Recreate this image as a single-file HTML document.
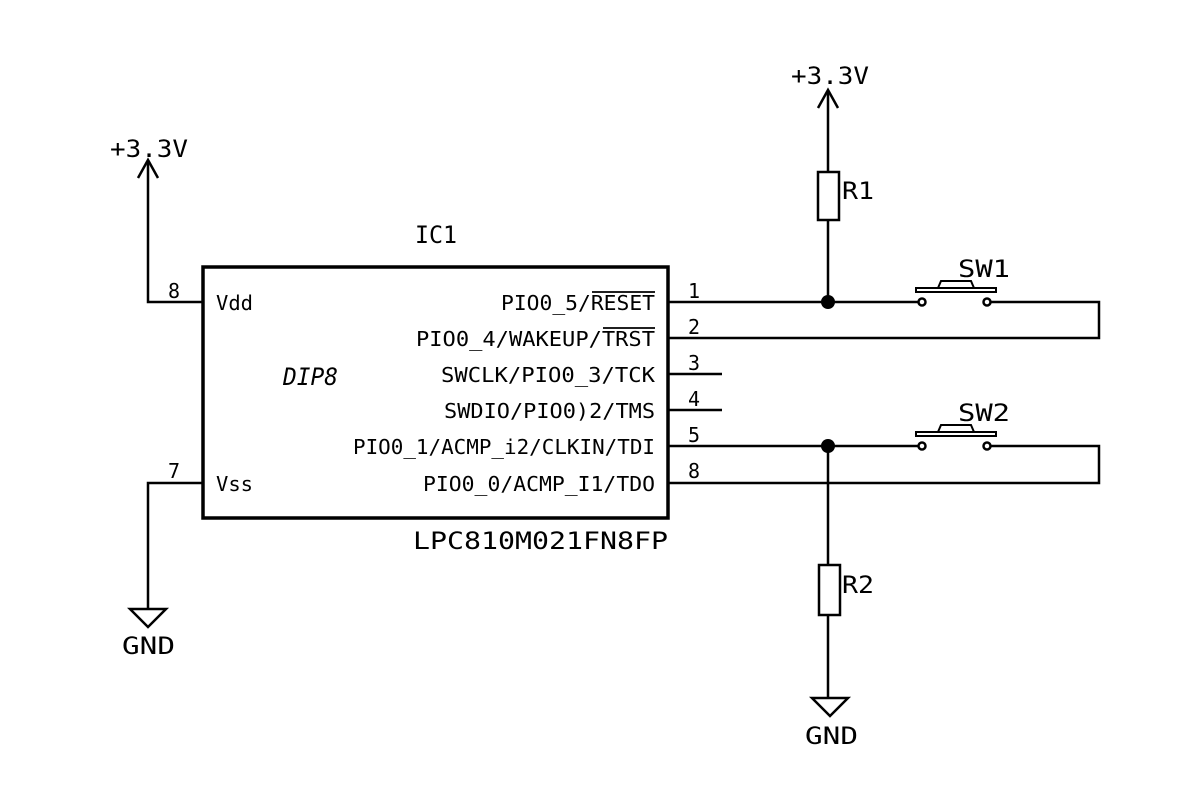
<!DOCTYPE html>
<html><head><meta charset="utf-8"><style>
html,body{margin:0;padding:0;background:#fff;}
svg{display:block}
text{font-family:"DejaVu Sans Mono","Liberation Mono",monospace;fill:#000;}
</style></head><body>
<svg width="1200" height="793" viewBox="0 0 1200 793" xmlns="http://www.w3.org/2000/svg">
<g stroke="#000" stroke-width="2.5" fill="none">
<rect x="203" y="267" width="465" height="251" stroke-width="3.5"/>
<polyline points="203,302 148,302 148,160"/>
<polyline points="138,178 148,160 158,178"/>
<polyline points="203,483 148,483 148,609"/>
<polygon points="130,609 166,609 148,627"/>
<line x1="668" y1="374" x2="722" y2="374"/>
<line x1="668" y1="410" x2="722" y2="410"/>
<line x1="668" y1="302" x2="918" y2="302"/>
<polyline points="991,302 1099,302 1099,338 668,338"/>
<line x1="668" y1="446" x2="918" y2="446"/>
<polyline points="991,446 1099,446 1099,483 668,483"/>
<line x1="828" y1="302" x2="828" y2="220"/>
<rect x="818" y="172" width="21" height="48"/>
<line x1="828" y1="172" x2="828" y2="90"/>
<polyline points="818,108 828,90 838,108"/>
<line x1="828" y1="446" x2="828" y2="565"/>
<rect x="819" y="565" width="21" height="50"/>
<line x1="828" y1="615" x2="828" y2="698"/>
<polygon points="812,698 848,698 830,716"/>
<circle cx="922" cy="302" r="3.5"/>
<circle cx="987" cy="302" r="3.5"/>
<rect x="916" y="288" width="80" height="4" stroke-width="2"/>
<polyline points="938,288 941,281 971,281 974,288" stroke-width="2"/>
<circle cx="922" cy="446" r="3.5"/>
<circle cx="987" cy="446" r="3.5"/>
<rect x="916" y="432" width="80" height="4" stroke-width="2"/>
<polyline points="938,432 941,425 971,425 974,432" stroke-width="2"/>
<line x1="592" y1="292" x2="655" y2="292" stroke-width="1.8"/>
<line x1="603" y1="328" x2="655" y2="328" stroke-width="1.8"/>
</g>
<circle cx="828" cy="302" r="7" fill="#000"/>
<circle cx="828" cy="446" r="7" fill="#000"/>
<g font-size="24" lengthAdjust="spacingAndGlyphs">
<text x="110" y="157" textLength="78" lengthAdjust="spacingAndGlyphs">+3.3V</text>
<text x="791" y="84" textLength="78" lengthAdjust="spacingAndGlyphs">+3.3V</text>
<text x="415" y="243" textLength="42" lengthAdjust="spacingAndGlyphs">IC1</text>
<text x="842" y="199" textLength="32" lengthAdjust="spacingAndGlyphs">R1</text>
<text x="842" y="593" textLength="32" lengthAdjust="spacingAndGlyphs">R2</text>
<text x="958" y="277" textLength="52" lengthAdjust="spacingAndGlyphs">SW1</text>
<text x="958" y="421" textLength="52" lengthAdjust="spacingAndGlyphs">SW2</text>
<text x="122" y="654" textLength="53" lengthAdjust="spacingAndGlyphs">GND</text>
<text x="805" y="744" textLength="53" lengthAdjust="spacingAndGlyphs">GND</text>
<text x="413" y="549" textLength="255" lengthAdjust="spacingAndGlyphs">LPC810M021FN8FP</text>
<text x="283" y="385" font-style="italic" textLength="55" lengthAdjust="spacingAndGlyphs">DIP8</text>
</g>
<g font-size="20">
<text x="216" y="310" textLength="37" lengthAdjust="spacingAndGlyphs">Vdd</text>
<text x="216" y="491" textLength="37" lengthAdjust="spacingAndGlyphs">Vss</text>
<text x="168" y="298">8</text>
<text x="168" y="478">7</text>
<text x="688" y="298">1</text>
<text x="688" y="334">2</text>
<text x="688" y="370">3</text>
<text x="688" y="406">4</text>
<text x="688" y="442">5</text>
<text x="688" y="478">8</text>
<text x="501" y="310" textLength="154" lengthAdjust="spacingAndGlyphs">PIO0_5/RESET</text>
<text x="416" y="346" textLength="239" lengthAdjust="spacingAndGlyphs">PIO0_4/WAKEUP/TRST</text>
<text x="441" y="382" textLength="214" lengthAdjust="spacingAndGlyphs">SWCLK/PIO0_3/TCK</text>
<text x="444" y="418" textLength="211" lengthAdjust="spacingAndGlyphs">SWDIO/PIO0)2/TMS</text>
<text x="353" y="454" textLength="302" lengthAdjust="spacingAndGlyphs">PIO0_1/ACMP_i2/CLKIN/TDI</text>
<text x="423" y="491" textLength="232" lengthAdjust="spacingAndGlyphs">PIO0_0/ACMP_I1/TDO</text>
</g>
</svg>
</body></html>
